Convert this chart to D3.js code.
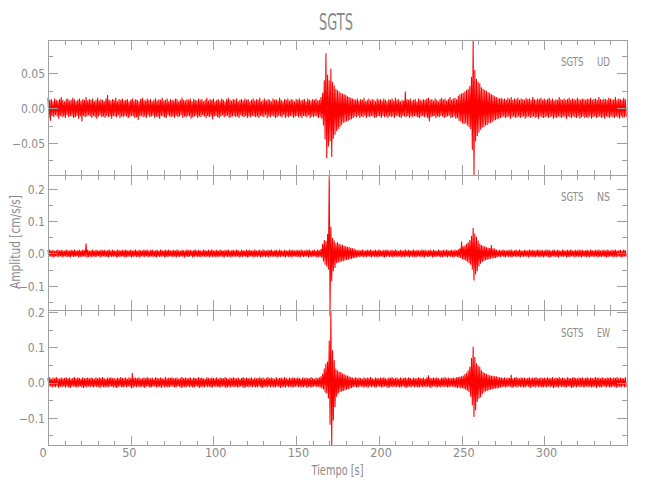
<!DOCTYPE html>
<html><head><meta charset="utf-8">
<script src="https://cdn.jsdelivr.net/npm/d3@7/dist/d3.min.js"></script>
<style>
body{margin:0;background:#fff}
text{font-family:"Liberation Sans Narrow","DejaVu Sans Condensed","Liberation Sans",sans-serif;fill:#8a8a8a}
</style>
</head><body>
<svg id="chart" width="650" height="500"></svg>
<script>
// ---- data (amplitudes in 0.001 cm/s/s, one max/min pair per second, t = 0..349 s)
const stationName = "SGTS";
const components = ["UD", "NS", "EW"];
const xTickValues = [0, 50, 100, 150, 200, 250, 300];
const udTickValues = [-0.05, 0, 0.05];
const nsTickValues = [-0.1, 0, 0.1, 0.2];
const ewTickValues = [-0.1, 0, 0.1, 0.2];

const udHi = [
15,12,13,10,14,12,11,13,16,12,10,13,14,11,12,15,13,10,12,14,11,13,12,16,11,
13,12,14,10,12,15,11,13,12,10,14,19,12,11,13,12,15,10,13,12,14,11,12,13,10,
12,14,11,13,12,10,13,15,12,11,14,12,13,10,12,14,11,13,12,15,11,12,14,10,13,
12,11,14,13,10,12,15,12,11,13,12,14,10,13,12,11,14,12,13,10,12,15,11,13,12,
14,10,12,13,11,14,12,10,13,15,12,11,13,12,14,10,12,13,11,14,12,13,10,12,14,
11,13,12,15,10,12,14,11,13,12,10,14,12,13,11,15,12,10,13,12,14,11,13,12,10,
13,12,14,11,12,13,10,14,12,11,13,12,14,11,12,16,22,40,79,48,40,57,38,33,28,
26,24,22,21,20,19,17,16,15,14,13,12,14,11,13,12,15,10,12,14,11,13,12,10,14,
12,13,11,14,12,10,13,12,14,11,15,12,13,10,12,11,24,13,12,14,11,12,13,10,14,
12,11,13,12,14,15,12,13,11,14,12,10,13,15,12,14,11,13,16,12,14,15,13,18,20,
21,22,24,26,28,32,45,98,55,42,38,36,30,28,26,25,23,22,20,19,17,16,15,14,15,
13,14,12,15,13,16,12,14,13,15,12,14,13,12,15,13,14,12,16,13,12,14,13,15,12,
14,12,13,15,12,14,11,13,12,16,13,12,14,12,13,15,12,14,13,12,15,13,12,14,13,
12,14,13,15,12,13,14,12,16,13,12,14,13,12,15,14,12,13,16,12,14,13,12,15,13];
const udLo = [
-14,-18,-11,-13,-10,-12,-15,-11,-13,-12,-14,-10,-13,-11,-12,-14,-13,-11,-15,-12,-19,-11,-13,-12,-10,
-12,-14,-11,-13,-15,-12,-10,-13,-12,-14,-11,-13,-12,-15,-11,-12,-13,-10,-14,-12,-13,-11,-12,-14,-13,
-11,-12,-14,-13,-17,-12,-11,-13,-12,-14,-10,-13,-12,-11,-14,-12,-13,-15,-11,-12,-13,-14,-10,-12,-13,
-12,-14,-11,-13,-12,-10,-14,-12,-13,-11,-12,-15,-13,-12,-11,-14,-12,-13,-10,-12,-14,-11,-13,-12,-16,
-12,-11,-13,-14,-12,-10,-13,-12,-11,-14,-13,-12,-11,-13,-12,-14,-10,-12,-13,-11,-14,-12,-13,-11,-12,
-13,-12,-14,-11,-12,-13,-10,-14,-12,-13,-11,-12,-14,-13,-11,-12,-13,-10,-14,-12,-13,-11,-12,-14,-12,
-11,-13,-12,-14,-11,-12,-13,-10,-14,-12,-13,-11,-12,-14,-13,-15,-25,-45,-72,-55,-48,-70,-44,-38,-33,
-30,-27,-24,-21,-20,-19,-18,-17,-16,-14,-12,-13,-11,-14,-12,-13,-11,-14,-12,-13,-11,-12,-14,-13,-11,
-12,-14,-11,-13,-12,-14,-11,-13,-12,-14,-11,-12,-13,-14,-11,-12,-13,-11,-14,-12,-13,-11,-12,-13,-14,
-12,-11,-13,-12,-14,-19,-13,-12,-11,-14,-12,-13,-11,-12,-14,-13,-12,-11,-14,-13,-12,-15,-14,-18,-19,
-22,-23,-22,-25,-27,-30,-60,-96,-48,-40,-35,-31,-28,-27,-25,-24,-22,-21,-20,-18,-17,-16,-15,-14,-13,
-12,-14,-13,-12,-15,-13,-12,-14,-13,-12,-14,-13,-12,-15,-13,-12,-14,-13,-12,-14,-13,-15,-12,-13,-14,
-13,-12,-14,-13,-12,-15,-13,-14,-12,-13,-14,-12,-13,-15,-12,-13,-14,-12,-13,-14,-12,-15,-13,-12,-14,
-13,-14,-12,-15,-13,-12,-14,-13,-12,-14,-13,-15,-12,-13,-14,-12,-13,-14,-12,-13,-15,-12,-14,-13,-12];

const nsHi = [
10,12,9,11,8,10,12,9,11,10,8,12,10,9,11,10,12,9,10,11,9,12,10,31,11,
9,10,12,8,11,10,9,12,10,11,9,10,12,9,11,10,8,12,10,9,11,10,12,9,10,
11,9,10,12,8,11,10,9,12,10,11,9,10,12,9,10,11,8,12,10,9,11,10,12,9,
10,11,9,12,10,8,11,10,9,12,10,11,9,10,12,9,11,10,8,12,10,9,11,10,12,
9,10,11,8,12,10,9,11,10,12,9,10,11,9,12,10,8,11,10,9,12,10,11,9,10,
12,9,10,11,8,12,10,9,11,10,12,9,10,11,9,12,10,8,11,10,9,12,10,11,9,
10,11,9,12,10,9,11,10,12,9,10,11,9,12,10,14,30,42,38,60,243,83,48,40,32,
35,30,28,27,24,22,21,20,18,16,15,12,10,11,9,12,10,9,11,10,12,9,10,11,9,
12,10,9,11,10,12,9,10,11,9,12,10,8,11,10,9,12,10,11,9,10,12,9,11,10,
9,12,10,11,9,10,12,9,11,10,8,12,10,9,11,10,12,9,10,11,9,12,10,13,16,
37,22,25,30,35,42,55,80,62,52,40,30,26,24,22,20,18,17,26,16,15,12,10,11,9,
12,10,9,11,10,12,9,10,11,9,12,10,8,11,10,9,12,10,11,9,10,12,9,11,10,
9,12,10,11,9,10,12,9,11,10,8,12,10,9,11,10,12,9,10,11,9,12,10,11,9,
10,11,9,12,10,9,11,10,12,9,10,11,9,12,10,9,11,10,12,9,10,11,9,12,10];
const nsLo = [
-10,-9,-11,-12,-9,-10,-11,-8,-12,-10,-9,-11,-10,-12,-9,-11,-10,-8,-12,-10,-11,-9,-10,-12,-11,
-10,-12,-9,-11,-10,-8,-12,-10,-9,-11,-10,-12,-9,-11,-10,-9,-12,-10,-11,-9,-10,-12,-11,-9,-10,
-12,-10,-9,-11,-10,-12,-9,-10,-11,-8,-12,-10,-9,-11,-10,-12,-9,-11,-10,-9,-12,-10,-11,-9,-10,
-11,-9,-12,-10,-11,-9,-10,-12,-9,-11,-10,-8,-12,-10,-9,-11,-10,-12,-9,-10,-11,-9,-12,-10,-11,
-9,-12,-10,-11,-9,-10,-12,-9,-11,-10,-12,-9,-10,-11,-9,-12,-10,-11,-9,-10,-12,-11,-9,-10,-12,
-10,-11,-9,-12,-10,-9,-11,-10,-12,-9,-10,-11,-9,-12,-10,-11,-9,-10,-12,-9,-11,-10,-12,-9,-10,
-11,-10,-12,-9,-11,-10,-9,-12,-10,-11,-9,-10,-12,-11,-10,-13,-25,-35,-40,-50,-175,-86,-55,-45,-30,
-28,-27,-25,-24,-22,-20,-19,-18,-17,-15,-14,-12,-10,-11,-9,-12,-10,-11,-9,-10,-12,-9,-11,-10,-12,
-10,-9,-11,-12,-10,-9,-11,-10,-12,-9,-10,-11,-9,-12,-10,-11,-9,-10,-12,-9,-11,-10,-12,-9,-10,
-11,-10,-12,-9,-11,-10,-9,-12,-10,-11,-9,-10,-12,-11,-9,-10,-12,-9,-11,-10,-12,-9,-11,-13,-14,
-18,-20,-22,-26,-30,-35,-50,-84,-65,-55,-40,-32,-26,-23,-21,-19,-18,-16,-15,-15,-14,-12,-10,-11,-9,
-10,-12,-9,-11,-10,-12,-9,-10,-11,-9,-12,-10,-11,-9,-10,-12,-9,-11,-10,-12,-9,-10,-11,-9,-12,
-10,-9,-11,-12,-10,-9,-11,-10,-12,-9,-10,-11,-9,-12,-10,-11,-9,-10,-12,-9,-11,-10,-12,-9,-10,
-11,-10,-12,-9,-11,-10,-9,-12,-10,-11,-9,-10,-12,-11,-10,-9,-12,-10,-11,-9,-10,-12,-11,-9,-10];

const ewHi = [
13,15,11,14,12,16,13,11,14,12,13,15,12,14,11,13,16,12,14,13,11,15,12,13,14,
12,14,13,11,15,12,14,13,16,12,11,14,13,15,12,13,11,14,12,16,13,12,14,11,15,
12,27,13,14,12,15,11,13,14,12,16,13,12,14,11,15,13,12,14,13,11,16,12,14,13,
15,12,13,14,11,13,16,12,14,13,12,15,11,14,13,12,16,13,14,12,11,15,13,12,14,
13,12,15,11,14,13,12,16,13,11,14,12,15,13,12,14,11,13,16,12,14,13,12,15,11,
14,12,13,15,12,14,11,13,16,12,14,13,11,15,12,13,14,12,16,13,11,14,12,15,13,
12,14,13,11,15,12,14,13,12,16,13,11,14,12,15,18,25,40,54,60,120,205,92,64,40,
35,31,30,26,24,21,20,18,16,14,13,15,12,14,13,11,15,12,14,13,16,12,11,14,13,
12,14,13,15,12,11,14,13,16,12,13,14,11,15,12,13,14,12,15,13,11,14,12,13,15,
13,12,14,11,15,21,13,12,14,13,15,12,11,14,13,16,12,14,13,12,14,13,15,16,17,
18,20,24,28,35,45,70,102,73,55,49,45,35,30,27,25,23,21,20,19,18,18,16,15,14,
13,15,12,14,13,22,12,14,16,13,12,15,13,14,12,13,15,12,14,13,16,12,13,14,12,
14,13,15,12,13,16,12,14,13,15,12,14,13,11,15,13,12,14,16,13,12,14,13,15,12,
13,15,12,14,13,12,16,13,14,12,15,13,12,14,13,15,12,14,13,16,12,14,13,12,15];
const ewLo = [
-12,-11,-14,-12,-13,-11,-15,-12,-13,-11,-14,-12,-13,-15,-12,-11,-13,-14,-12,-11,-13,-15,-12,-14,-11,
-13,-12,-14,-11,-13,-12,-15,-11,-13,-14,-12,-13,-11,-12,-14,-13,-15,-12,-11,-13,-14,-12,-13,-11,-12,
-17,-14,-12,-13,-11,-14,-12,-13,-15,-11,-12,-14,-13,-12,-11,-14,-13,-12,-15,-11,-13,-12,-14,-13,-11,
-12,-14,-13,-11,-12,-15,-13,-12,-14,-11,-13,-12,-14,-13,-11,-12,-15,-13,-12,-14,-11,-13,-12,-14,-13,
-11,-13,-12,-14,-13,-11,-12,-15,-13,-12,-14,-11,-13,-12,-14,-13,-11,-12,-15,-13,-12,-14,-11,-13,-12,
-14,-13,-11,-12,-15,-13,-12,-14,-11,-13,-12,-14,-13,-11,-12,-15,-13,-12,-14,-11,-13,-12,-14,-13,-12,
-11,-13,-12,-14,-13,-11,-15,-12,-13,-14,-12,-11,-13,-12,-14,-16,-20,-28,-31,-45,-120,-179,-108,-70,-40,
-31,-27,-26,-24,-22,-20,-19,-17,-15,-13,-12,-14,-13,-11,-12,-14,-13,-12,-15,-11,-13,-12,-14,-13,-11,
-12,-14,-13,-11,-12,-15,-13,-12,-14,-11,-13,-12,-14,-13,-11,-12,-15,-13,-12,-14,-11,-13,-12,-14,-13,
-12,-13,-11,-14,-12,-13,-15,-12,-11,-14,-13,-12,-14,-11,-13,-12,-14,-13,-12,-11,-14,-13,-15,-14,-16,
-16,-18,-20,-23,-27,-40,-65,-98,-79,-55,-46,-42,-33,-28,-25,-24,-22,-20,-19,-18,-17,-17,-15,-14,-13,
-12,-14,-13,-11,-12,-15,-13,-12,-14,-11,-13,-12,-14,-13,-11,-12,-15,-13,-12,-14,-11,-13,-12,-14,-13,
-12,-14,-11,-13,-12,-15,-13,-12,-14,-11,-13,-12,-14,-13,-11,-12,-15,-13,-12,-14,-11,-13,-12,-14,-13,
-11,-13,-12,-14,-13,-11,-15,-12,-13,-14,-12,-11,-13,-12,-14,-13,-11,-12,-15,-13,-12,-14,-11,-13,-12];

// ---- layout
const svg = d3.select("#chart");
const left = 48, right = 627;
const panelTops = [40, 175, 310.5];
const panelH = 135;
const axisColor = "#a0a0a0";
const x = d3.scaleLinear().domain([0, 350]).range([left, right]);

const panels = [
  {comp: components[0], hi: udHi, lo: udLo, ticks: udTickValues, minor: 0.025, fmt: ".2f"},
  {comp: components[1], hi: nsHi, lo: nsLo, ticks: nsTickValues, minor: 0.05, fmt: ".1f"},
  {comp: components[2], hi: ewHi, lo: ewLo, ticks: ewTickValues, minor: 0.05, fmt: ".1f"}
];

function styleAxis(g) {
  g.select(".domain").remove();
  g.selectAll("line").attr("stroke", axisColor).attr("shape-rendering", "crispEdges");
  g.selectAll("text").attr("fill", "#8a8a8a").style("font-size", "12px")
    .attr("font-family", null);
}

const xMinor = d3.range(0, 351, 10);

panels.forEach((p, i) => {
  const top = panelTops[i], bottom = top + panelH;
  const hiV = p.hi.map(v => v / 1000), loV = p.lo.map(v => v / 1000);
  const y = d3.scaleLinear().domain(d3.extent(hiV.concat(loV))).range([bottom, top]);
  const [d0, d1] = y.domain();
  const minorVals = d3.range(Math.ceil(d0 / p.minor), Math.floor(d1 / p.minor) + 1).map(k => k * p.minor);

  // trace: alternate max/min of each second
  const pts = [];
  hiV.forEach((v, t) => { pts.push([t, v]); if (t < loV.length) pts.push([t + 0.5, loV[t]]); });
  svg.append("path").datum(pts)
    .attr("fill", "none").attr("stroke", "#ff0000").attr("stroke-width", 1.05)
    .attr("stroke-linejoin", "miter")
    .attr("d", d3.line().x(d => x(d[0])).y(d => y(d[1])));

  // frame
  svg.append("rect").attr("x", left).attr("y", top).attr("width", right - left).attr("height", panelH)
    .attr("fill", "none").attr("stroke", axisColor).attr("shape-rendering", "crispEdges");

  // y axes (left with labels, right mirrored)
  svg.append("g").attr("transform", `translate(${left},0)`)
    .call(d3.axisLeft(y).tickValues(minorVals).tickSize(-5).tickFormat("")).call(styleAxis);
  const yl = svg.append("g").attr("transform", `translate(${left},0)`)
    .call(d3.axisLeft(y).tickValues(p.ticks).tickSize(-10).tickPadding(3)
      .tickFormat(d => d3.format(p.fmt)(d))).call(styleAxis);
  yl.selectAll("text").attr("dy", "0.36em");
  svg.append("g").attr("transform", `translate(${right},0)`)
    .call(d3.axisRight(y).tickValues(minorVals).tickSize(-5).tickFormat("")).call(styleAxis);
  svg.append("g").attr("transform", `translate(${right},0)`)
    .call(d3.axisRight(y).tickValues(p.ticks).tickSize(-10).tickFormat("")).call(styleAxis);

  // x axes (top and bottom of each panel)
  svg.append("g").attr("transform", `translate(0,${top})`)
    .call(d3.axisTop(x).tickValues(xMinor).tickSize(-5).tickFormat("")).call(styleAxis);
  svg.append("g").attr("transform", `translate(0,${top})`)
    .call(d3.axisTop(x).tickValues(xTickValues).tickSize(-10).tickFormat("")).call(styleAxis);
  svg.append("g").attr("transform", `translate(0,${bottom})`)
    .call(d3.axisBottom(x).tickValues(xMinor).tickSize(-5).tickFormat("")).call(styleAxis);
  const xb = svg.append("g").attr("transform", `translate(0,${bottom})`)
    .call(d3.axisBottom(x).tickValues(xTickValues).tickSize(-10).tickPadding(3)
      .tickFormat(i === panels.length - 1 ? d3.format("d") : "")).call(styleAxis);
  xb.selectAll("text").attr("text-anchor", "start").attr("x", -9).style("font-size", "12.5px");

  // station / component label
  svg.append("text").attr("x", 561).attr("y", top + 26).style("font-size", "13px")
    .attr("textLength", 22.5).attr("lengthAdjust", "spacingAndGlyphs").text(stationName);
  svg.append("text").attr("x", 610).attr("y", top + 26).attr("text-anchor", "end")
    .style("font-size", "13px").attr("textLength", 13).attr("lengthAdjust", "spacingAndGlyphs").text(p.comp);
});

// title
svg.append("text").attr("x", 336).attr("y", 30).attr("text-anchor", "middle")
  .style("font-size", "23px").attr("textLength", 34).attr("lengthAdjust", "spacingAndGlyphs").text(stationName);

// axis titles
svg.append("text").attr("x", 337.5).attr("y", 475).attr("text-anchor", "middle")
  .style("font-size", "13.5px").attr("textLength", 52).attr("lengthAdjust", "spacingAndGlyphs").text("Tiempo [s]");
svg.append("text").attr("transform", "translate(20,242) rotate(-90)").attr("text-anchor", "middle")
  .style("font-size", "13.5px").attr("textLength", 94).attr("lengthAdjust", "spacingAndGlyphs").text("Amplitud [cm/s/s]");
</script>
</body></html>
